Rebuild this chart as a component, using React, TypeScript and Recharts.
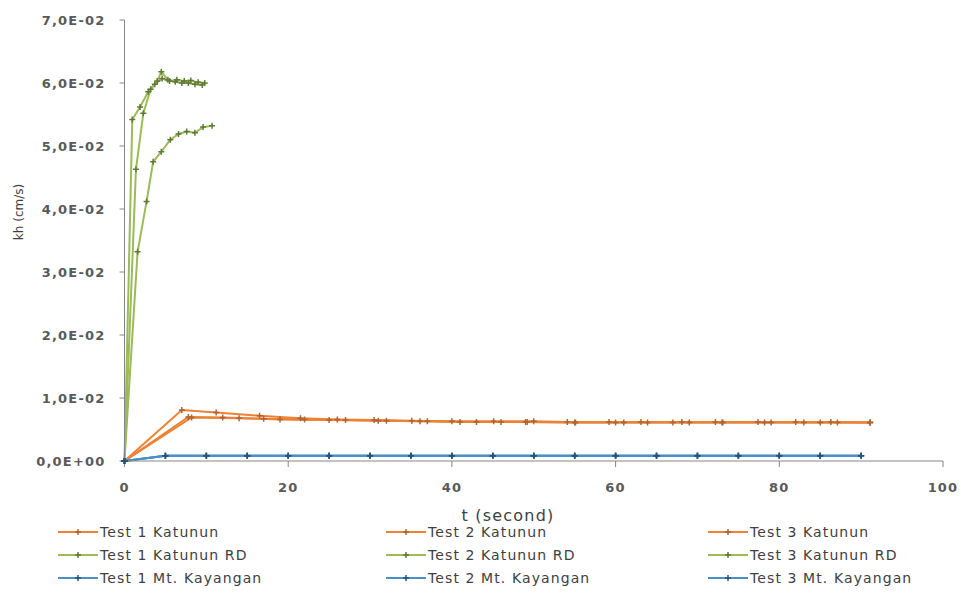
import React from "react";
import { LineChart, Line, XAxis, YAxis } from "recharts";

// time (s) and kh (cm/s) for each test
const katunun1T = [0, 7.0, 11.2, 16.5, 21.5, 26, 30.5, 35.1, 40.0, 45.1, 50.0, 54.1, 59.2, 63.1, 68.1, 72.2, 77.4, 82.0, 86.3, 91.1];
const katunun1K = [0, 0.0081, 0.0077, 0.0072, 0.0068, 0.0066, 0.0065, 0.0064, 0.0063, 0.0063, 0.0063, 0.0062, 0.0062, 0.0062, 0.0062, 0.0062, 0.0062, 0.0062, 0.0062, 0.0061];
const katunun2T = [0, 7.8, 12, 17, 22, 27, 32, 36.1, 41.0, 46, 49.2, 55.1, 60, 63.9, 69, 73.1, 78.2, 83, 87.1, 91.1];
const katunun2K = [0, 0.007, 0.0069, 0.0067, 0.0066, 0.0065, 0.0064, 0.0063, 0.0062, 0.0062, 0.0062, 0.0061, 0.0061, 0.0061, 0.0061, 0.0061, 0.0061, 0.0061, 0.0061, 0.0061];
const katunun3T = [0, 8.2, 14, 19, 25, 31, 37, 43, 49, 55, 61, 67, 73, 79, 85, 91.1];
const katunun3K = [0, 0.0069, 0.0068, 0.0066, 0.0065, 0.0064, 0.0063, 0.0062, 0.0062, 0.0061, 0.0061, 0.0061, 0.0061, 0.0061, 0.0061, 0.0061];

const rd1T = [0, 0.95, 1.9, 2.9, 3.7, 4.6, 5.5, 6.4, 7.3, 8.1, 9.0, 9.8];
const rd1K = [0, 0.0542, 0.0562, 0.0586, 0.0598, 0.0607, 0.0603, 0.0605, 0.0603, 0.0604, 0.0601, 0.06];
const rd2T = [0, 1.4, 2.3, 3.2, 4.0, 4.5, 5.3, 6.2, 7.0, 7.8, 8.6, 9.5];
const rd2K = [0, 0.0463, 0.0552, 0.059, 0.0603, 0.0618, 0.0605, 0.0602, 0.06, 0.06, 0.0598, 0.0597];
const rd3T = [0, 1.6, 2.7, 3.5, 4.5, 5.6, 6.6, 7.6, 8.6, 9.6, 10.7];
const rd3K = [0, 0.0332, 0.0412, 0.0475, 0.0491, 0.051, 0.0519, 0.0523, 0.0521, 0.053, 0.0532];

const kayanganT = [0, 5, 10, 15, 20, 25, 30, 35, 40, 45, 50, 55, 60, 65, 70, 75, 80, 85, 90];
const kayangan1K = [0, 0.00085, 0.00085, 0.00085, 0.00085, 0.00085, 0.00085, 0.00085, 0.00085, 0.00085, 0.00085, 0.00085, 0.00085, 0.00085, 0.00085, 0.00085, 0.00085, 0.00085, 0.00085];
const kayangan2K = [0, 0.00084, 0.00084, 0.00084, 0.00084, 0.00084, 0.00084, 0.00084, 0.00084, 0.00084, 0.00084, 0.00084, 0.00084, 0.00084, 0.00084, 0.00084, 0.00084, 0.00084, 0.00084];
const kayangan3K = [0, 0.00083, 0.00083, 0.00083, 0.00083, 0.00083, 0.00083, 0.00083, 0.00083, 0.00083, 0.00083, 0.00083, 0.00083, 0.00083, 0.00083, 0.00083, 0.00083, 0.00083, 0.00083];

const yTicks = [0, 0.01, 0.02, 0.03, 0.04, 0.05, 0.06, 0.07];
const xTicks = [0, 20, 40, 60, 80, 100];

const ORANGE = "#ec8236";
const ORANGE_DARK = "#b06430";
const GREEN = "#9bbb59";
const GREEN_DARK = "#5f7a36";
const BLUE = "#4a90c8";
const BLUE_DARK = "#24527e";

const zip = (t: number[], k: number[]) => t.map((x, i) => ({ t: x, kh: k[i] }));

const series = [
  { name: "Test 1 Katunun", data: zip(katunun1T, katunun1K), color: ORANGE, mark: ORANGE_DARK },
  { name: "Test 2 Katunun", data: zip(katunun2T, katunun2K), color: ORANGE, mark: ORANGE_DARK },
  { name: "Test 3 Katunun", data: zip(katunun3T, katunun3K), color: ORANGE, mark: ORANGE_DARK },
  { name: "Test 1 Katunun RD", data: zip(rd1T, rd1K), color: GREEN, mark: GREEN_DARK },
  { name: "Test 2 Katunun RD", data: zip(rd2T, rd2K), color: GREEN, mark: GREEN_DARK },
  { name: "Test 3 Katunun RD", data: zip(rd3T, rd3K), color: GREEN, mark: GREEN_DARK },
  { name: "Test 1 Mt. Kayangan", data: zip(kayanganT, kayangan1K), color: BLUE, mark: BLUE_DARK },
  { name: "Test 2 Mt. Kayangan", data: zip(kayanganT, kayangan2K), color: BLUE, mark: BLUE_DARK },
  { name: "Test 3 Mt. Kayangan", data: zip(kayanganT, kayangan3K), color: BLUE, mark: BLUE_DARK },
];

// "7,0E-02" style labels
function sci(v: number) {
  if (v === 0) return "0,0E+00";
  const e = Math.floor(Math.log10(v) + 1e-9);
  const m = v / Math.pow(10, e);
  return `${m.toFixed(1).replace(".", ",")}E${e < 0 ? "-" : "+"}${String(Math.abs(e)).padStart(2, "0")}`;
}

const crossDot = (color: string) => (p: any) => {
  const { cx, cy, index } = p;
  if (cx == null || cy == null) return <g key={index} />;
  return (
    <path
      key={index}
      d={`M${cx - 3},${cy}h6M${cx},${cy - 3}v6`}
      stroke={color}
      strokeWidth={1.5}
      fill="none"
    />
  );
};

const tickStyle = {
  fontFamily: "DejaVu Sans",
  fontSize: 13,
  fontWeight: 700,
  fill: "#595959",
  letterSpacing: 1.2,
};

const legendCols = [58, 386, 708];
const legendRows = [532, 555, 578];

export default function App() {
  return (
    <div style={{ position: "absolute", left: 0, top: 0, width: 961, height: 594, background: "#fff" }}>
      <LineChart width={961} height={594} margin={{ top: 20, right: 18, left: 0, bottom: 103 }}>
        <XAxis
          type="number"
          dataKey="t"
          domain={[0, 100]}
          ticks={xTicks}
          height={30}
          tickSize={6}
          tickMargin={16}
          stroke="#868686"
          tick={tickStyle}
          allowDuplicatedCategory={false}
        />
        <YAxis
          type="number"
          dataKey="kh"
          domain={[0, 0.07]}
          ticks={yTicks}
          width={124.5}
          tickSize={5}
          tickMargin={14}
          tickFormatter={sci}
          stroke="#868686"
          tick={tickStyle}
        />
        {series.map((s) => (
          <Line
            key={s.name}
            data={s.data}
            dataKey="kh"
            name={s.name}
            type="linear"
            stroke={s.color}
            strokeWidth={2}
            dot={crossDot(s.mark)}
            activeDot={false}
            isAnimationActive={false}
          />
        ))}
      </LineChart>

      <div
        style={{
          position: "absolute",
          left: 19,
          top: 212,
          transform: "translate(-50%, -50%) rotate(-90deg)",
          fontFamily: "DejaVu Sans",
          fontSize: 12,
          color: "#404040",
          whiteSpace: "nowrap",
        }}
      >
        kh (cm/s)
      </div>
      <div
        style={{
          position: "absolute",
          left: 508,
          top: 515,
          transform: "translate(-50%, -50%)",
          fontFamily: "DejaVu Sans",
          fontSize: 16,
          letterSpacing: 1.2,
          color: "#404040",
          whiteSpace: "nowrap",
        }}
      >
        t (second)
      </div>

      {series.map((s, i) => {
        const col = i % 3;
        const row = Math.floor(i / 3);
        return (
          <div
            key={s.name}
            style={{
              position: "absolute",
              left: legendCols[col],
              top: legendRows[row] - 10,
              height: 20,
              display: "flex",
              alignItems: "center",
              fontFamily: "DejaVu Sans",
              fontSize: 14,
              letterSpacing: 1.1,
              color: "#404040",
              whiteSpace: "nowrap",
            }}
          >
            <svg width={40} height={10} style={{ marginRight: 2 }}>
              <line x1={0} y1={5} x2={40} y2={5} stroke={s.color} strokeWidth={2} />
              <path d="M17,5h6M20,2v6" stroke={s.mark} strokeWidth={1.5} />
            </svg>
            {s.name}
          </div>
        );
      })}
    </div>
  );
}
